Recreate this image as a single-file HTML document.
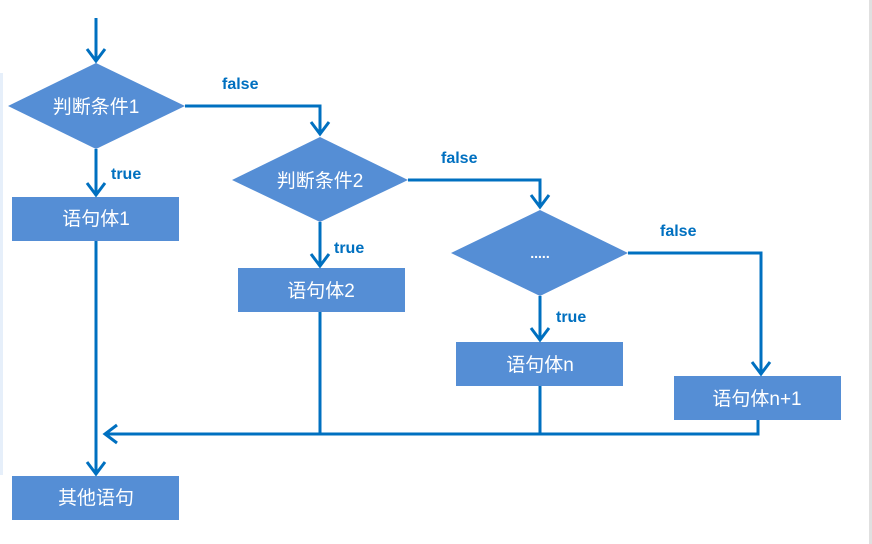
<!DOCTYPE html>
<html><head><meta charset="utf-8"><style>
body{margin:0;background:#fff;width:872px;height:544px;overflow:hidden}
</style></head><body>
<svg width="872" height="544" xmlns="http://www.w3.org/2000/svg" style="position:absolute;left:0;top:0">
<rect x="0" y="73" width="3" height="402" fill="#e6effa"/>
<rect x="869" y="0" width="3" height="544" fill="#e0e0e0"/>
<g fill="#558ed5">
<polygon points="8,106 96,63 185,106 96,149"/>
<rect x="12" y="197" width="167" height="44"/>
<polygon points="232,180 320,137 408,180 320,222"/>
<rect x="238" y="268" width="167" height="44"/>
<polygon points="451,253 540,210 628,253 540,296"/>
<rect x="456" y="342" width="167" height="44"/>
<rect x="674" y="376" width="167" height="44"/>
<rect x="12" y="476" width="167" height="44"/>
</g>
<g stroke="#0070c0" stroke-width="3" fill="none">
<path d="M96,18 V61"/><path d="M87,49 L96,61 L105,49"/>
<path d="M96,149 V195"/><path d="M87,183 L96,195 L105,183"/>
<path d="M185,106 H320 V134"/><path d="M311,122 L320,134 L329,122"/>
<path d="M320,222 V266"/><path d="M311,254 L320,266 L329,254"/>
<path d="M408,180 H540 V207"/><path d="M531,195 L540,207 L549,195"/>
<path d="M540,296 V340"/><path d="M531,328 L540,340 L549,328"/>
<path d="M628,253 H761 V374"/><path d="M752,362 L761,374 L770,362"/>
<path d="M96,241 V474"/><path d="M87,462 L96,474 L105,462"/>
<path d="M758,420 V434 H105"/><path d="M117,425 L105,434 L117,443"/>
<path d="M320,312 V434"/><path d="M540,386 V434"/>
</g>
<g font-family="Liberation Sans, Noto Sans CJK SC, sans-serif" font-size="19" fill="#fff" text-anchor="middle">
<text x="96" y="113">判断条件1</text>
<text x="96" y="225">语句体1</text>
<text x="320" y="187">判断条件2</text>
<text x="321" y="297">语句体2</text>
<text x="540" y="258" font-weight="bold" font-size="14">.....</text>
<text x="540" y="371">语句体n</text>
<text x="757" y="405">语句体n+1</text>
<text x="96" y="504">其他语句</text>
</g>
<g font-family="Liberation Sans, sans-serif" font-size="16" font-weight="bold" fill="#0070c0">
<text x="222" y="89">false</text>
<text x="111" y="179">true</text>
<text x="441" y="163">false</text>
<text x="334" y="253">true</text>
<text x="660" y="236">false</text>
<text x="556" y="322">true</text>
</g>
</svg>
</body></html>
